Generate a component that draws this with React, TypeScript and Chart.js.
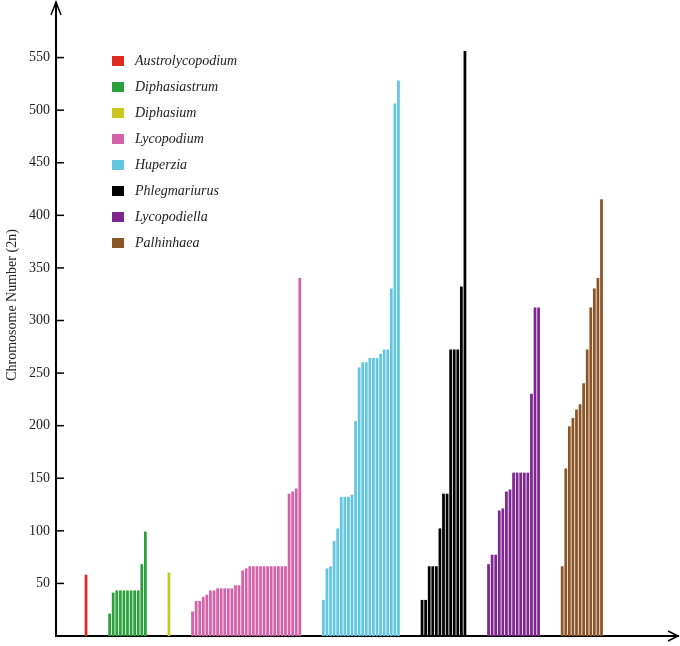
import { useEffect, useRef } from "react"
import { Chart, registerables } from "chart.js"

Chart.register(...registerables)

// Genera, in the order they are drawn left to right
const genera = [
  "Austrolycopodium",
  "Diphasiastrum",
  "Diphasium",
  "Lycopodium",
  "Huperzia",
  "Phlegmariurus",
  "Lycopodiella",
  "Palhinhaea",
]

const colors = ["#e0291f", "#2aa13b", "#c9c81f", "#d562a8", "#63c6e1", "#000000", "#7e2791", "#8c5528"]

// Chromosome numbers (2n)
const austrolycopodium = [58]
const diphasiastrum = [21, 41, 43, 43, 43, 43, 43, 43, 43, 68, 99]
const diphasium = [60]
const lycopodium = [
  23, 33, 33, 37, 39, 43, 43, 45, 45, 45, 45, 45, 48, 48, 62, 64,
  66, 66, 66, 66, 66, 66, 66, 66, 66, 66, 66, 135, 137, 140, 340,
]
const huperzia = [34, 64, 66, 90, 102, 132, 132, 132, 134, 204, 255, 260, 260, 264, 264, 264, 268, 272, 272, 330, 506, 528]
const phlegmariurus = [34, 34, 66, 66, 66, 102, 135, 135, 272, 272, 272, 332, 556]
const lycopodiella = [68, 77, 77, 119, 121, 137, 139, 155, 155, 155, 155, 155, 230, 312, 312]
const palhinhaea = [66, 159, 199, 207, 215, 220, 240, 272, 312, 330, 340, 415]

const series = [austrolycopodium, diphasiastrum, diphasium, lycopodium, huperzia, phlegmariurus, lycopodiella, palhinhaea]

const yTicks = [50, 100, 150, 200, 250, 300, 350, 400, 450, 500, 550]

const GROUP_GAP = 6.6
const SERIF = "'Liberation Serif', 'Times New Roman', serif"

const axesPlugin = {
  id: "axesDecor",
  afterDraw(chart: Chart) {
    const { ctx, chartArea } = chart
    const y = chart.scales.y
    const { left, right, top, bottom } = chartArea
    ctx.save()
    ctx.strokeStyle = "#000"
    ctx.lineWidth = 2

    // y axis extension + arrowhead
    ctx.beginPath()
    ctx.moveTo(left, top + 2)
    ctx.lineTo(left, 2)
    ctx.stroke()
    ctx.lineWidth = 1.5
    ctx.beginPath()
    ctx.moveTo(left - 5, 15)
    ctx.lineTo(left, 2)
    ctx.lineTo(left + 5, 15)
    ctx.stroke()

    // x arrowhead
    ctx.beginPath()
    ctx.moveTo(right - 10, bottom - 5)
    ctx.lineTo(right, bottom)
    ctx.lineTo(right - 10, bottom + 5)
    ctx.stroke()

    // inward tick marks and their labels
    ctx.fillStyle = "#222"
    ctx.font = `14px ${SERIF}`
    ctx.textAlign = "right"
    ctx.textBaseline = "middle"
    yTicks.forEach((v) => {
      const py = y.getPixelForValue(v)
      ctx.beginPath()
      ctx.moveTo(left, py)
      ctx.lineTo(left + 8, py)
      ctx.stroke()
      ctx.fillText(String(v), left - 6, py)
    })

    // axis title
    ctx.textAlign = "center"
    ctx.translate(12, 305)
    ctx.rotate(-Math.PI / 2)
    ctx.fillText("Chromosome Number (2n)", 0, 0)
    ctx.restore()

    // legend
    ctx.save()
    ctx.font = `italic 14px ${SERIF}`
    ctx.textBaseline = "middle"
    ctx.textAlign = "left"
    chart.data.datasets.forEach((ds, i) => {
      const cy = 61 + i * 26
      ctx.fillStyle = ds.backgroundColor as string
      ctx.fillRect(112, cy - 5, 12, 10)
      ctx.fillStyle = "#222"
      ctx.fillText(ds.label as string, 135, cy)
    })
    ctx.restore()
  },
}

export default function App() {
  const chartRef = useRef<HTMLCanvasElement>(null)
  const chartInstance = useRef<Chart | null>(null)

  useEffect(() => {
    if (!chartRef.current) return
    document.body.style.margin = "0"

    if (chartInstance.current) {
      chartInstance.current.destroy()
    }

    // lay the groups out one after another along a linear x scale
    let cursor = 0
    const datasets = series.map((values, g) => {
      const start = cursor
      cursor += values.length - 1 + GROUP_GAP
      return {
        label: genera[g],
        data: values.map((v, i) => ({ x: start + i, y: v })),
        backgroundColor: colors[g],
        borderWidth: 0,
        barThickness: 2.1,
        grouped: false,
      }
    })

    const ctx = chartRef.current.getContext("2d")
    if (ctx) {
      chartInstance.current = new Chart(ctx, {
        type: "bar",
        data: { datasets },
        plugins: [axesPlugin],
        options: {
          animation: false,
          responsive: true,
          maintainAspectRatio: false,
          layout: { padding: { top: 5, right: 2, left: 0, bottom: 0 } },
          plugins: {
            legend: { display: false },
            tooltip: { enabled: false },
          },
          scales: {
            x: {
              type: "linear",
              offset: false,
              bounds: "data",
              min: -8.4,
              max: 165.6,
              ticks: { display: false },
              grid: { display: false, drawTicks: false },
              border: { display: true, color: "#000", width: 2 },
              afterFit: (scale) => {
                scale.height = 10
              },
            },
            y: {
              min: 0,
              max: 600,
              ticks: { display: false },
              grid: { display: false, drawTicks: false },
              border: { display: true, color: "#000", width: 2 },
              afterFit: (scale) => {
                scale.width = 56
              },
            },
          },
        },
      })
    }

    return () => {
      if (chartInstance.current) {
        chartInstance.current.destroy()
        chartInstance.current = null
      }
    }
  }, [])

  return (
    <div style={{ width: 680, height: 646, position: "relative" }}>
      <canvas ref={chartRef} />
    </div>
  )
}
